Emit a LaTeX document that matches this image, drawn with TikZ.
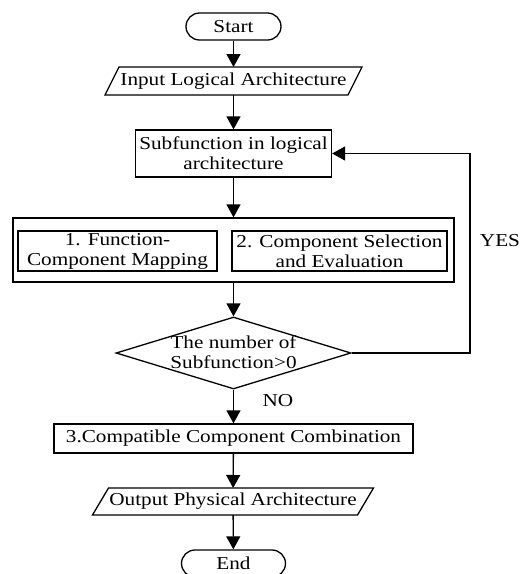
\documentclass[tikz,border=0pt]{standalone}
\usepackage{fontspec}
\setmainfont{Liberation Serif}[FakeStretch=1.165]
\usetikzlibrary{arrows.meta,shapes.geometric}
\begin{document}
\begin{tikzpicture}[x=1pt,y=-1pt,
  line width=1.3pt,
  every node/.style={font=\fontsize{18.2}{20}\selectfont, inner sep=2pt},
  box/.style={draw, rectangle, align=center},
  term/.style={draw, rectangle, rounded corners=13.5pt, minimum height=27pt},
  io/.style={rectangle, outer sep=0pt},
  arr/.style={-{Triangle[length=13pt,width=14pt]}},
]
\useasboundingbox (0,0) rectangle (520,574);

\node[term, minimum width=95pt] (start) at (233.5,26.5) {Start};
\node[io, minimum width=243pt, minimum height=28pt] (input) at (233.5,81) {Input Logical Architecture};
\draw ([xshift=-7pt]input.south west) -- ([xshift=7pt]input.north west) -- ([xshift=7pt]input.north east) -- ([xshift=-7pt]input.south east) -- cycle;

\node[box, minimum width=196pt, minimum height=47pt] (sub) at (233.5,153.5) {Subfunction in logical\\architecture};
\node[box, minimum width=441pt, minimum height=64pt] (outer) at (233.5,250) {};
\node[box, minimum width=199pt, minimum height=40pt] (f1) at (117.5,251) {1. Function-\\Component Mapping};
\node[box, minimum width=215pt, minimum height=40pt] (f2) at (339.5,251) {2. Component Selection\\and Evaluation};

\node[draw, diamond, minimum width=235pt, minimum height=72pt, inner sep=0pt] (dia) at (233.5,353) {};
\node[align=center] (diatext) at (233.5,352) {The number of\\Subfunction>0};

\node[box, minimum width=359pt, minimum height=29pt] (comb) at (233.5,438.5) {3.Compatible Component Combination};
\node[io, minimum width=265pt, minimum height=27pt] (output) at (233,501.5) {Output Physical Architecture};
\draw ([xshift=-8pt]output.south west) -- ([xshift=8pt]output.north west) -- ([xshift=8pt]output.north east) -- ([xshift=-8pt]output.south east) -- cycle;
\node[term, minimum width=104pt] (end) at (233.5,563.5) {End};

\draw[arr] (start) -- (input);
\draw[arr] (input) -- (sub);
\draw[arr] (sub) -- (outer);
\draw[arr] (outer) -- (dia);
\draw[arr] (dia) -- (comb);
\draw[arr] (comb) -- (output);
\draw[arr] (output) -- (end);
\coordinate (rc) at (470,353);
\draw[arr] (dia.east) -- (rc) |- (sub.east);

\node (no) at (278,401) {NO};
\node (yes) at (500,241) {YES};
\end{tikzpicture}
\end{document}
